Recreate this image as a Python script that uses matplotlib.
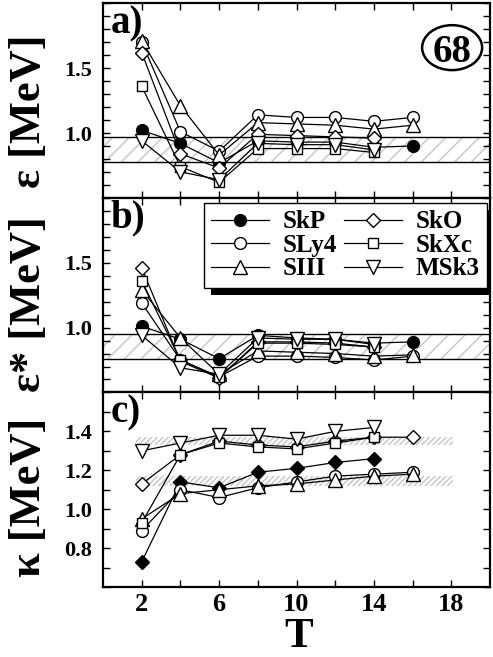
import numpy as np
import matplotlib.pyplot as plt
from matplotlib.patches import Ellipse, Rectangle
from matplotlib.transforms import IdentityTransform
from matplotlib.ticker import MultipleLocator, FixedLocator

plt.rcParams['font.family'] = ['Liberation Serif', 'DejaVu Serif']
plt.rcParams['font.weight'] = 'bold'
plt.rcParams['hatch.linewidth'] = 1.0

# temperatures
T_long = [2, 4, 6, 8, 10, 12, 14, 16]
T_short = [2, 4, 6, 8, 10, 12, 14]

names = ["SkP", "SLy4", "SIII", "SkO", "SkXc", "MSk3"]

# panel a) epsilon [MeV]
skp_a = [1.02, 0.92, 0.77, 0.94, 0.93, 0.93, 0.89, 0.90]
sly4_a = [1.70, 1.01, 0.86, 1.14, 1.12, 1.12, 1.09, 1.12]
siii_a = [1.71, 1.21, 0.83, 1.08, 1.07, 1.06, 1.03, 1.06]
sko_a = [1.62, 0.84, 0.73, 0.99, 0.98, 0.97, 0.96]
skxc_a = [1.36, 0.74, 0.62, 0.88, 0.88, 0.88, 0.85]
msk3_a = [0.94, 0.70, 0.64, 0.92, 0.91, 0.91, 0.87]

# panel b) epsilon* [MeV]
skp_b = [1.01, 0.91, 0.76, 0.94, 0.92, 0.91, 0.88, 0.89]
sly4_b = [1.19, 0.75, 0.62, 0.78, 0.78, 0.77, 0.75, 0.78]
siii_b = [1.29, 0.92, 0.64, 0.82, 0.81, 0.80, 0.78, 0.79]
sko_b = [1.46, 0.74, 0.61, 0.89, 0.89, 0.88, 0.85]
skxc_b = [1.36, 0.75, 0.62, 0.88, 0.88, 0.87, 0.85]
msk3_b = [0.94, 0.69, 0.64, 0.92, 0.91, 0.91, 0.87]

# panel c) kappa [MeV]
skp_c = [0.73, 1.14, 1.11, 1.19, 1.21, 1.24, 1.26]
sly4_c = [0.89, 1.10, 1.06, 1.11, 1.14, 1.17, 1.18, 1.19]
siii_c = [0.95, 1.08, 1.10, 1.12, 1.13, 1.15, 1.17, 1.18]
sko_c = [1.13, 1.28, 1.35, 1.33, 1.32, 1.35, 1.37, 1.37]
skxc_c = [0.93, 1.28, 1.34, 1.32, 1.31, 1.34, 1.37]
msk3_c = [1.30, 1.34, 1.38, 1.38, 1.36, 1.40, 1.42]

# shaded bands (lower, upper)
band_a = (0.78, 0.97)
band_b = (0.76, 0.95)
bands_c = [(1.33, 1.37), (1.12, 1.17)]
band_c_x = (1.7, 18.1)

series_a = [skp_a, sly4_a, siii_a, sko_a, skxc_a, msk3_a]
series_b = [skp_b, sly4_b, siii_b, sko_b, skxc_b, msk3_b]
series_c = [skp_c, sly4_c, siii_c, sko_c, skxc_c, msk3_c]

markers = ['o', 'o', '^', 'D', 's', 'v']
fills = ['black', 'white', 'white', 'white', 'white', 'white']
sizes = [8.5, 8.5, 9.5, 7.0, 7.5, 9.5]

fig, axes = plt.subplots(3, 1, sharex=True, figsize=(4.93, 6.57), dpi=100)
fig.subplots_adjust(left=0.209, right=0.994, top=0.995, bottom=0.1065, hspace=0)


def draw_series(ax, series, first_marker='o'):
    lines = []
    for i, vals in enumerate(series):
        T = T_long if len(vals) == 8 else T_short
        m = markers[i]
        if i == 0:
            m = first_marker
        ln, = ax.plot(T, vals, color='black', lw=0.9, marker=m, ms=sizes[i] if m != 'D' else 7.0,
                      mfc=fills[i], mec='black', mew=1.0, zorder=3 + i * 0.1, label=names[i])
        lines.append(ln)
    return lines


# bands for a and b
for ax, band in [(axes[0], band_a), (axes[1], band_b)]:
    ax.axhspan(band[0], band[1], facecolor='white', edgecolor='#c4c4c4', hatch='//', lw=0, zorder=1)
    ax.axhline(band[0], color='black', lw=1.0, zorder=2)
    ax.axhline(band[1], color='black', lw=1.0, zorder=2)

for lo, hi in bands_c:
    axes[2].fill_between(band_c_x, lo, hi, facecolor='white', edgecolor='#c4c4c4', hatch='//////', lw=0, zorder=1)

draw_series(axes[0], series_a)
leg_lines = draw_series(axes[1], series_b)
draw_series(axes[2], series_c, first_marker='D')

for ax in axes:
    ax.set_xlim(0, 20)
    ax.xaxis.set_major_locator(FixedLocator([2, 6, 10, 14, 18]))
    ax.xaxis.set_minor_locator(FixedLocator([4, 8, 12, 16]))
    ax.tick_params(which='both', direction='in', length=5, width=1, top=True, right=True)
    ax.tick_params(axis='x', labelsize=19, pad=4)
    ax.tick_params(axis='y', labelsize=16, pad=8)
    for s in ax.spines.values():
        s.set_linewidth(1.6)

for ax in axes[:2]:
    ax.set_ylim(0.5, 2.0)
    ax.yaxis.set_major_locator(FixedLocator([1.0, 1.5]))
    ax.yaxis.set_minor_locator(MultipleLocator(0.1))
    ax.yaxis.set_major_formatter(plt.FormatStrFormatter('%.1f'))

axes[2].set_ylim(0.6, 1.6)
axes[2].yaxis.set_major_locator(FixedLocator([0.8, 1.0, 1.2, 1.4]))
axes[2].yaxis.set_minor_locator(MultipleLocator(0.1))
axes[2].yaxis.set_major_formatter(plt.FormatStrFormatter('%.1f'))
axes[2].xaxis.set_major_formatter(plt.FormatStrFormatter('%d'))

for ax, lab in zip(axes, ['a)', 'b)', 'c)']):
    ax.text(0.02, 0.99, lab, transform=ax.transAxes, fontsize=28, va='top', ha='left', zorder=6)

# the "68" badge
axes[0].add_patch(Ellipse((0.902, 0.772), 0.155, 0.231, transform=axes[0].transAxes,
                          facecolor='white', edgecolor='black', lw=1.8, zorder=6))
axes[0].text(0.902, 0.772, '68', transform=axes[0].transAxes, fontsize=28,
             ha='center', va='center_baseline', zorder=7)

# legend in panel b
leg = axes[1].legend(handles=leg_lines, ncol=2, loc='upper right', bbox_to_anchor=(0.992, 0.974),
                     borderaxespad=0, fontsize=18, handlelength=2.3, handletextpad=0.55,
                     columnspacing=0.3, labelspacing=0.02, borderpad=0.3, fancybox=False,
                     framealpha=1, edgecolor='black')
leg.get_frame().set_linewidth(1.0)
leg.set_zorder(8)

fig.canvas.draw()
bb = leg.get_window_extent()
shadow = Rectangle((bb.x0 + 7, bb.y0 - 7), bb.width, bb.height, transform=IdentityTransform(),
                   facecolor='black', edgecolor='none', zorder=7.5)
shadow.set_clip_path(axes[1].patch)
axes[1].add_artist(shadow)

fig.text(0.059, 0.830, 'ε [MeV]', rotation=90, fontsize=32, ha='center', va='center')
fig.text(0.059, 0.537, 'ε* [MeV]', rotation=90, fontsize=32, ha='center', va='center')
fig.text(0.059, 0.2435, 'κ [MeV]', rotation=90, fontsize=32, ha='center', va='center')
fig.text(299 / 493, 0.031, 'T', fontsize=31, ha='center', va='center')

fig.savefig('out.png', dpi=100)
